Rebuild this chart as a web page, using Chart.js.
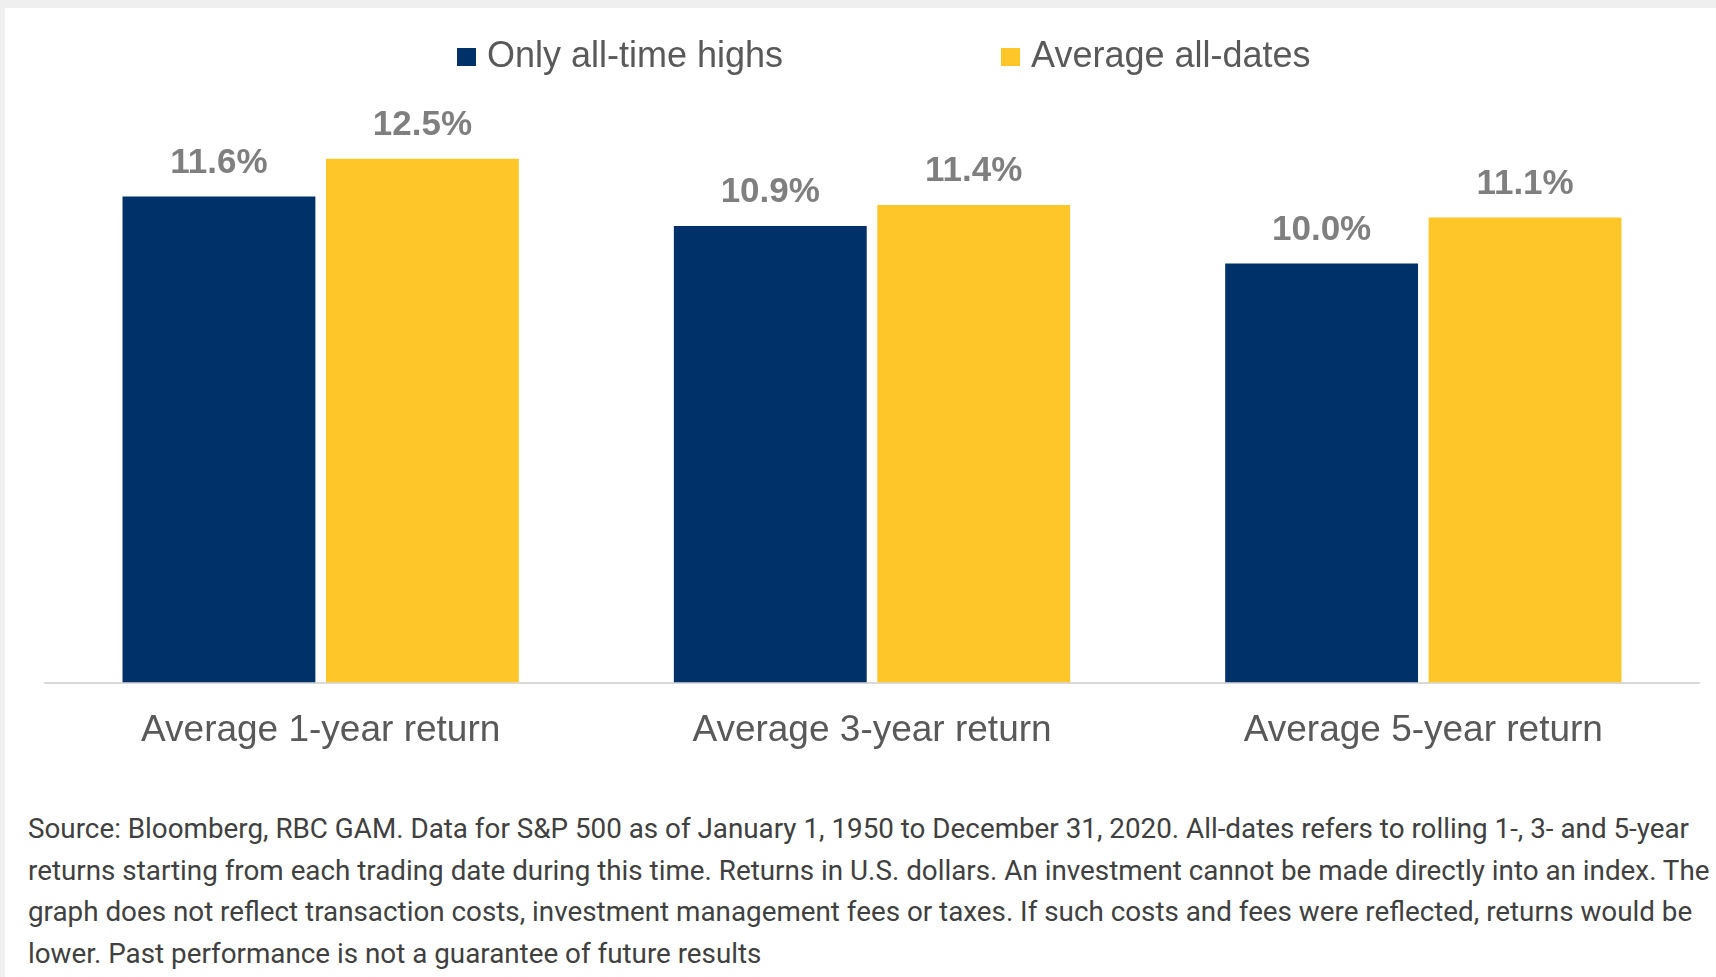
<!DOCTYPE html>
<html>
<head>
<meta charset="utf-8">
<script src="https://cdn.jsdelivr.net/npm/chart.js@4.4.1/dist/chart.umd.min.js"></script>
<style>
  html, body { margin:0; padding:0; }
  body { width:1716px; height:977px; background:#efefef; position:relative; overflow:hidden; }
  #panel { position:absolute; left:5px; top:8px; right:0; bottom:0; background:#ffffff; }
  #chartWrap { position:absolute; left:0; top:0; width:1716px; height:779px; }
  #legend { position:absolute; left:457px; top:34px; display:flex; gap:218px;
            font-family:'Liberation Sans', Arial, sans-serif; font-size:36px; line-height:41px; color:#595959; }
  #legend .item { display:flex; align-items:flex-start; white-space:nowrap; }
  #legend .box { display:inline-block; width:19px; height:18px; margin-top:14px; margin-right:11px; }
  #note { position:absolute; left:28px; top:808px; font-family:Roboto, sans-serif; font-size:27.8px;
          line-height:41.5px; color:#404040; white-space:nowrap; }
</style>
</head>
<body>
<div id="panel"></div>
<div id="chartWrap"><canvas id="c" width="1716" height="779"></canvas></div>
<div id="legend"></div>
<div id="note"></div>
<script>
const categories = ['Average 1-year return', 'Average 3-year return', 'Average 5-year return'];
const seriesNames = ['Only all-time highs', 'Average all-dates'];
const allTimeHighs = [11.6, 10.9, 10.0];
const allDates = [12.5, 11.4, 11.1];
const seriesColors = ['#003168', '#FFC629'];
const noteLines = [
  'Source: Bloomberg, RBC GAM. Data for S&P 500 as of January 1, 1950 to December 31, 2020. All-dates refers to rolling 1-, 3- and 5-year',
  'returns starting from each trading date during this time. Returns in U.S. dollars. An investment cannot be made directly into an index. The',
  'graph does not reflect transaction costs, investment management fees or taxes. If such costs and fees were reflected, returns would be',
  'lower. Past performance is not a guarantee of future results'
];

// HTML legend
const legend = document.getElementById('legend');
seriesNames.forEach((n, i) => {
  const item = document.createElement('div'); item.className = 'item';
  const box = document.createElement('span'); box.className = 'box'; box.style.background = seriesColors[i];
  const txt = document.createElement('span'); txt.textContent = n;
  item.appendChild(box); item.appendChild(txt); legend.appendChild(item);
});
const note = document.getElementById('note');
noteLines.forEach(l => { const d = document.createElement('div'); d.textContent = l; note.appendChild(d); });

const valueLabels = {
  id: 'valueLabels',
  afterDatasetsDraw(chart) {
    const ctx = chart.ctx;
    ctx.save();
    ctx.font = 'bold 35px "Liberation Sans", Arial, sans-serif';
    ctx.fillStyle = '#7f7f7f';
    ctx.textAlign = 'center';
    ctx.textBaseline = 'alphabetic';
    chart.data.datasets.forEach((ds, di) => {
      chart.getDatasetMeta(di).data.forEach((el, i) => {
        ctx.fillText(ds.data[i].toFixed(1) + '%', el.x, el.y - 24);
      });
    });
    ctx.restore();
  }
};

new Chart(document.getElementById('c'), {
  type: 'bar',
  data: {
    labels: categories,
    datasets: [
      { label: seriesNames[0], data: allTimeHighs, backgroundColor: seriesColors[0] },
      { label: seriesNames[1], data: allDates, backgroundColor: seriesColors[1] }
    ]
  },
  options: {
    responsive: false,
    animation: false,
    devicePixelRatio: 1,
    datasets: { bar: { categoryPercentage: 0.738, barPercentage: 0.948 } },
    layout: { padding: { left: 45, right: 17, top: 96, bottom: 0 } },
    plugins: { legend: { display: false }, tooltip: { enabled: false } },
    scales: {
      x: {
        grid: { display: false, drawTicks: false },
        border: { display: true, color: '#d9d9d9', width: 2 },
        ticks: { color: '#595959', font: { family: '"Liberation Sans", Arial, sans-serif', size: 37 }, padding: 26 }
      },
      y: { display: false, min: 0, max: 14 }
    }
  },
  plugins: [valueLabels]
});
</script>
</body>
</html>
